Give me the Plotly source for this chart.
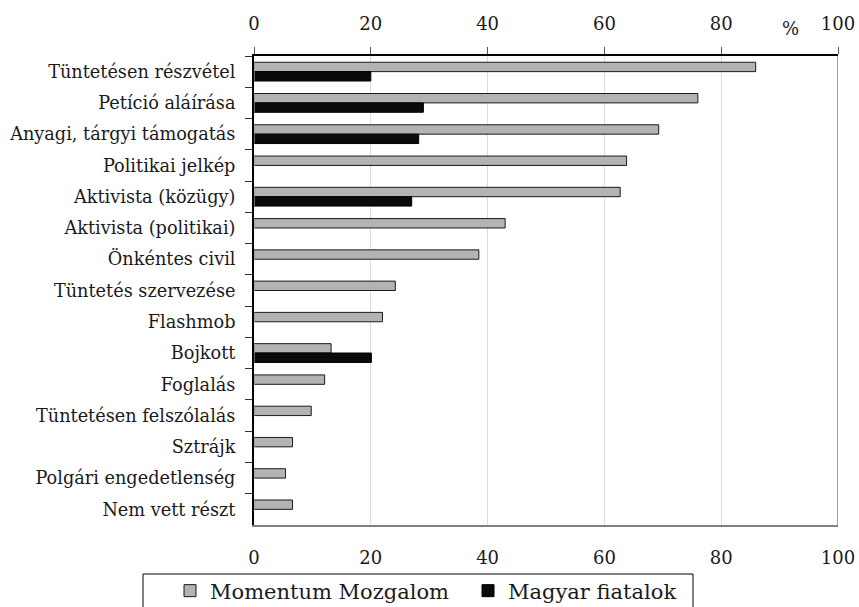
import plotly.graph_objects as go

categories = ["Tüntetésen részvétel", "Petíció aláírása", "Anyagi, tárgyi támogatás",
              "Politikai jelkép", "Aktivista (közügy)", "Aktivista (politikai)",
              "Önkéntes civil", "Tüntetés szervezése", "Flashmob", "Bojkott",
              "Foglalás", "Tüntetésen felszólalás", "Sztrájk",
              "Polgári engedetlenség", "Nem vett részt"]
momentum = [85.9, 76.0, 69.3, 63.8, 62.7, 43.0, 38.5, 24.2, 22.0, 13.2, 12.1, 9.8, 6.6, 5.4, 6.6]
fiatalok = [20.0, 29.0, 28.2, None, 27.0, None, None, None, None, 20.1, None, None, None, None, None]
tick_vals = [0, 20, 40, 60, 80, 100]

FONT = "DejaVu Serif"

fig = go.Figure()
fig.add_trace(go.Bar(y=categories, x=momentum, orientation="h", name="Momentum Mozgalom",
                     marker=dict(color="#b3b3b3", line=dict(color="#1a1a1a", width=1))))
fig.add_trace(go.Bar(y=categories, x=fiatalok, orientation="h", name="Magyar fiatalok",
                     marker=dict(color="#0a0a0a", line=dict(color="#000000", width=1))))
# invisible trace to carry the top axis
fig.add_trace(go.Bar(y=categories, x=[0] * len(categories), orientation="h", xaxis="x2",
                     showlegend=False, hoverinfo="skip", marker=dict(color="rgba(0,0,0,0)")))

fig.update_layout(
    width=859, height=607,
    margin=dict(l=254, r=21, t=56, b=82, autoexpand=False),
    paper_bgcolor="white", plot_bgcolor="white",
    font=dict(family=FONT, size=18, color="#1a1a1a"),
    barmode="group", bargap=0.4, bargroupgap=0,
    showlegend=True,
    legend=dict(orientation="h", x=-0.1438, xanchor="left", y=-0.097, yanchor="top",
                borderwidth=0, bgcolor="rgba(0,0,0,0)", font=dict(family=FONT, size=21),
                entrywidth=253, entrywidthmode="pixels", tracegroupgap=0),
    xaxis=dict(range=[0, 100], tickvals=tick_vals, showgrid=True, gridcolor="#dcdcdc",
               gridwidth=1, showline=True, linecolor="#808080", linewidth=1.5,
               ticks="", zeroline=False, ticklabelstandoff=16, automargin=False,
               tickfont=dict(family=FONT, size=18)),
    xaxis2=dict(range=[0, 100], tickvals=tick_vals, overlaying="x", side="top",
                showgrid=False, showline=True, linecolor="#000", linewidth=2,
                ticks="outside", ticklen=7, tickcolor="#555", tickwidth=1,
                zeroline=False, ticklabelstandoff=10, automargin=False,
                tickfont=dict(family=FONT, size=18)),
    yaxis=dict(autorange="reversed", showline=True, linecolor="#000", linewidth=2,
               ticks="outside", tickson="boundaries", ticklen=7, tickcolor="#333",
               showgrid=False, ticklabelstandoff=13, automargin=False,
               tickfont=dict(family=FONT, size=17.7)),
    shapes=[
        dict(type="line", xref="x", yref="paper", x0=100, x1=100, y0=0, y1=1,
             line=dict(color="#808080", width=1.5)),
        dict(type="rect", xref="paper", yref="paper",
             x0=(143 - 254) / 584, x1=(693 - 254) / 584, y0=-0.25, y1=(525 - 574) / 469,
             line=dict(color="#000", width=1), fillcolor="rgba(0,0,0,0)"),
    ],
    annotations=[
        dict(text="%", xref="x", yref="paper", x=91.95, y=(525 - 29) / 469, showarrow=False,
             yanchor="middle", font=dict(family=FONT, size=18)),
        dict(text="%", xref="x", yref="paper", x=100.3, y=(525 - 586) / 469, showarrow=False,
             yanchor="middle", font=dict(family=FONT, size=18)),
    ],
)

fig.write_html("out.html", config={"displayModeBar": False},
               post_script="document.body.style.margin='0';document.body.style.overflow='hidden';")
